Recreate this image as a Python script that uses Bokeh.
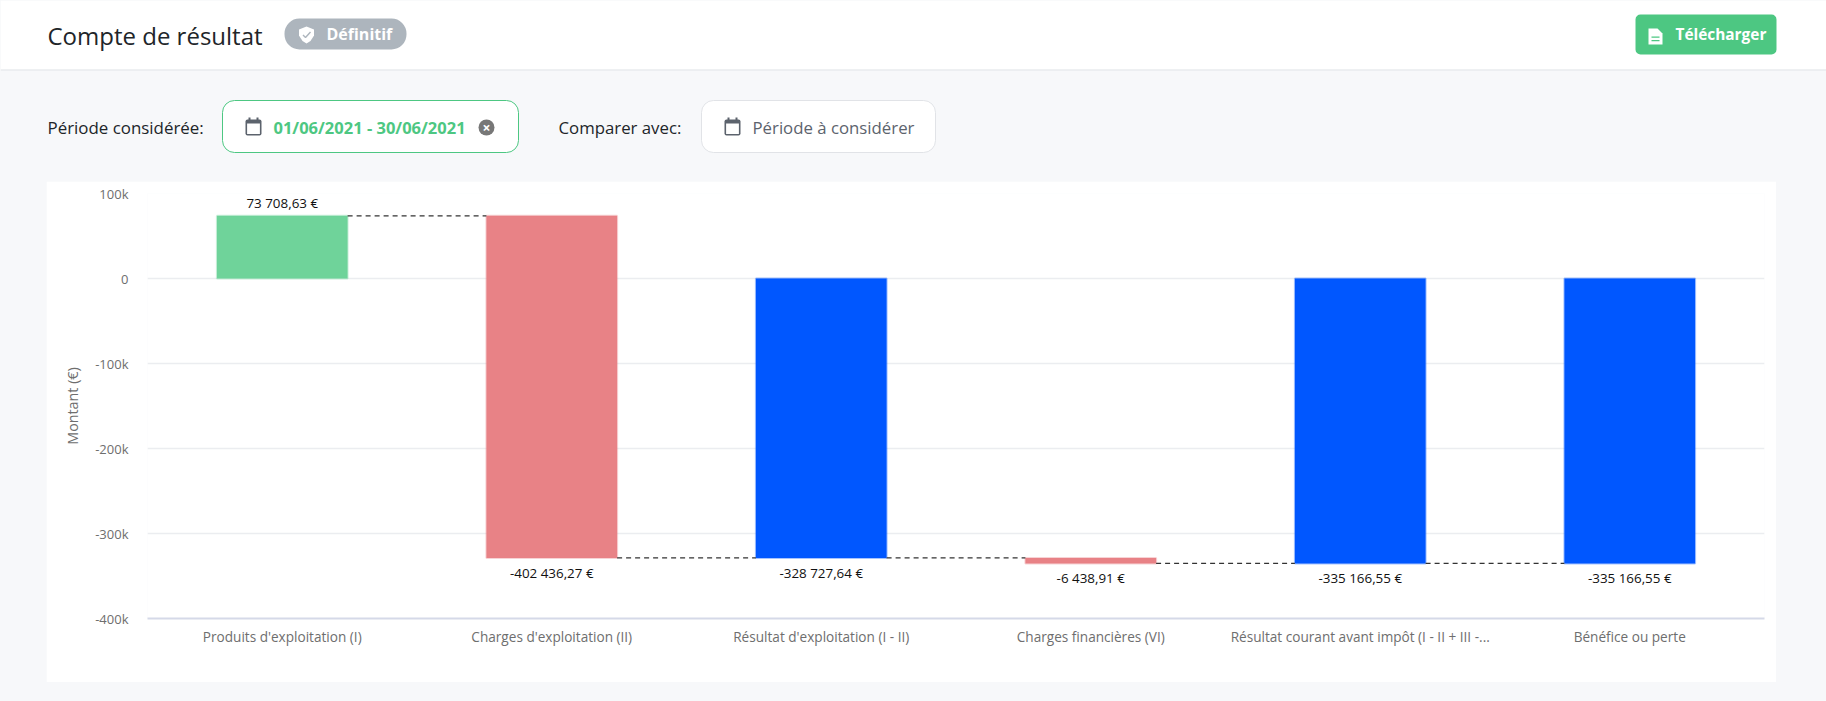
from bokeh.embed import file_html
from bokeh.resources import INLINE
from bokeh.plotting import figure
from bokeh.layouts import column
from bokeh.models import FixedTicker, ColumnDataSource, Range1d
from bokeh.core.properties import value

categories = ["Produits d'exploitation (I)", "Charges d'exploitation (II)", "Résultat d'exploitation (I - II)",
              "Charges financières (VI)", "Résultat courant avant impôt (I - II + III -...", "Bénéfice ou perte"]
bar_bottom = [0, -328727.64, -328727.64, -335166.55, -335166.55, -335166.55]
bar_top = [73708.63, 73708.63, 0, -328727.64, 0, 0]
bar_colors = ["#6fd39a", "#e88286", "#0057ff", "#e88286", "#0057ff", "#0057ff"]
value_labels = ["73 708,63 €", "-402 436,27 €", "-328 727,64 €", "-6 438,91 €", "-335 166,55 €", "-335 166,55 €"]
label_anchor = [73708.63, -328727.64, -328727.64, -335166.55, -335166.55, -335166.55]
connector_levels = [73708.63, -328727.64, -328727.64, -335166.55, -335166.55]
y_ticks = [100000, 0, -100000, -200000, -300000, -400000]
y_tick_labels = ["100k", "0", "-100k", "-200k", "-300k", "-400k"]

FONT = "Open Sans"
BG = "#f7f8fa"
GREEN = "#4dc782"
BAR_W = 0.485
HEAD_H = 181

# ---- page header: a figure whose data units are pixels ----
h = figure(width=1826, height=HEAD_H, x_range=Range1d(0, 1826), y_range=Range1d(HEAD_H, 0),
           output_backend="svg", toolbar_location=None, x_axis_location=None, y_axis_location=None,
           min_border=0, min_border_left=0, min_border_right=0, min_border_top=0, min_border_bottom=0,
           frame_align=False)
h.grid.visible = False
h.outline_line_color = None
h.background_fill_color = BG
h.border_fill_color = BG


def box(l, t, r, b, fill="white", line=None, radius=0, lw=1):
    h.quad(left=[l], right=[r], top=[t], bottom=[b], fill_color=fill, line_color=line, line_width=lw,
           border_radius=radius)


def label(x, y, text, size=16, color="#212529", style="normal", align="left"):
    h.text(x=[x], y=[y], text=[text], text_font=value(FONT), text_font_size=f"{size}px", text_color=color,
           text_font_style=style, text_align=align, text_baseline="middle")


def calendar(x, y, color):
    h.quad(left=[x], right=[x + 16], top=[y + 2], bottom=[y + 18], fill_color=color, line_color=None, border_radius=2)
    h.quad(left=[x + 1.6], right=[x + 14.4], top=[y + 6], bottom=[y + 16.4], fill_color="white", line_color=None)
    h.quad(left=[x + 3, x + 11], right=[x + 5, x + 13], top=[y, y], bottom=[y + 3, y + 3], fill_color=color, line_color=None)


box(0, 0, 1826, 69, fill="white")
box(0, 69, 1826, 70, fill="#e1e3e7")

label(47, 35, "Compte de résultat", size=24)
box(284, 18, 406, 49, fill="#adb5bd", radius=15)
h.patch(x=[306, 313.5, 313.5, 310, 306, 302, 298.5, 298.5], y=[26, 29, 35, 40.5, 43, 40.5, 35, 29],
        fill_color="white", line_color=None)
h.line(x=[302.5, 305, 310], y=[34.5, 37, 31.5], line_color="#adb5bd", line_width=1.4)
label(326, 33, "Définitif", size=16, color="white", style="bold")

box(1635, 14, 1776, 54, fill=GREEN, radius=5)
h.patch(x=[1648, 1657, 1662, 1662, 1648], y=[28, 28, 33, 44, 44], fill_color="white", line_color=None)
h.quad(left=[1651, 1651], right=[1659, 1659], top=[36, 39.5], bottom=[37.2, 40.7], fill_color=GREEN, line_color=None)
label(1675, 34, "Télécharger", size=15.4, color="white", style="bold")

label(47, 127, "Période considérée:", size=16.9)
box(222, 100, 518, 152, fill="white", line=GREEN, radius=12)
calendar(245, 117, "#5c636d")
label(273, 127, "01/06/2021 - 30/06/2021", size=16.5, color=GREEN, style="bold")
h.scatter(x=[486], y=[127], size=16, marker="circle", fill_color="#777777", line_color=None)
label(486, 126.5, "×", size=14, color="white", style="bold", align="center")

label(558, 127, "Comparer avec:", size=16.8)
box(701, 100, 935, 152, fill="white", line="#e1e3e7", radius=12)
calendar(724, 117, "#5c636d")
label(752, 127, "Période à considérer", size=16.8, color="#5c636d")

# ---- chart panel ----
p = figure(width=1730, height=501, x_range=categories, y_range=(-400000, 100000),
           output_backend="svg", toolbar_location=None,
           min_border_left=101, min_border_right=12, min_border_top=12, min_border_bottom=64,
           margin=(0, 50, 19, 46), frame_align=False)
p.border_fill_color = "white"
p.background_fill_color = "white"
p.outline_line_color = None

p.xgrid.visible = False
p.ygrid.grid_line_color = "#ebedf0"
p.ygrid.grid_line_width = 1.5
p.ygrid.ticker = FixedTicker(ticks=y_ticks)

p.yaxis.ticker = FixedTicker(ticks=y_ticks)
p.yaxis.major_label_overrides = dict(zip(y_ticks, y_tick_labels))
p.yaxis.axis_line_color = None
p.yaxis.major_tick_line_color = None
p.yaxis.minor_tick_line_color = None
p.yaxis.major_tick_out = 0
p.yaxis.major_label_text_font = FONT
p.yaxis.major_label_text_font_size = "13px"
p.yaxis.major_label_text_color = "#6e6e6e"
p.yaxis.major_label_standoff = 19
p.yaxis.axis_label = "Montant (€)"
p.yaxis.axis_label_text_font = FONT
p.yaxis.axis_label_text_font_size = "14.3px"
p.yaxis.axis_label_text_font_style = "normal"
p.yaxis.axis_label_text_color = "#6e6e6e"
p.yaxis.axis_label_standoff = 10

p.xaxis.axis_line_color = "#d5d9e8"
p.xaxis.axis_line_width = 2
p.xaxis.major_tick_line_color = None
p.xaxis.minor_tick_line_color = None
p.xaxis.major_tick_out = 0
p.xaxis.major_label_text_font = FONT
p.xaxis.major_label_text_font_size = "13.6px"
p.xaxis.major_label_text_color = "#6e6e6e"
p.xaxis.major_label_standoff = 8

p.vbar(x=categories, top=bar_top, bottom=bar_bottom, width=BAR_W, fill_color=bar_colors,
       line_color=bar_colors, line_width=2, line_alpha=0.35)

for i, level in enumerate(connector_levels):
    p.segment(x0=[(categories[i], BAR_W / 2)], y0=[level], x1=[(categories[i + 1], -BAR_W / 2)], y1=[level],
              line_color="#333333", line_width=1.2, line_dash="5 4")

src = ColumnDataSource(dict(x=categories[:1], y=label_anchor[:1], t=value_labels[:1]))
p.text(x="x", y="y", text="t", source=src, text_align="center", text_baseline="middle", y_offset=-13,
       text_font=value(FONT), text_font_size="13.4px", text_color="#111111")
src2 = ColumnDataSource(dict(x=categories[1:], y=label_anchor[1:], t=value_labels[1:]))
p.text(x="x", y="y", text="t", source=src2, text_align="center", text_baseline="middle", y_offset=15,
       text_font=value(FONT), text_font_size="13.4px", text_color="#111111")

page = column(h, p, spacing=0, styles={"background-color": BG})
open("out.html", "w").write(file_html(page, INLINE))
